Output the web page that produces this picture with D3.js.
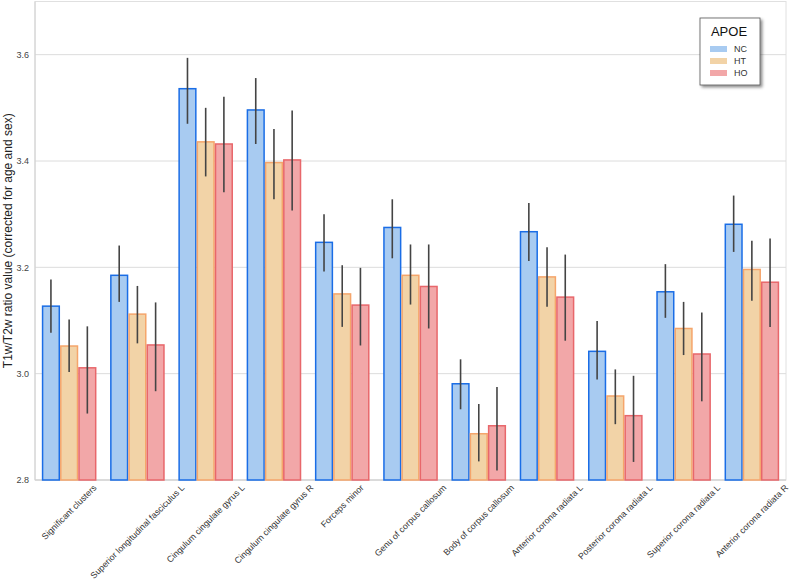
<!DOCTYPE html>
<html><head><meta charset="utf-8">
<script src="https://cdn.jsdelivr.net/npm/d3@7"></script>
<style>body{margin:0;background:#fff;font-family:"Liberation Sans",Arial,sans-serif;}</style>
</head><body><svg id="c" width="790" height="580"></svg>
<script>
const categories = ["Significant clusters","Superior longitudinal fasciculus L","Cingulum cingulate gyrus L","Cingulum cingulate gyrus R","Forceps minor","Genu of corpus callosum","Body of corpus callosum","Anterior corona radiata L","Posterior corona radiata L","Superior corona radiata L","Anterior corona radiata R"];
const groups = ["NC","HT","HO"];
const ncMean = [3.127,3.185,3.536,3.496,3.247,3.275,2.981,3.267,3.042,3.154,3.281];
const ncLow  = [3.077,3.135,3.470,3.432,3.192,3.217,2.933,3.212,2.989,3.105,3.229];
const ncHigh = [3.177,3.241,3.594,3.556,3.300,3.328,3.027,3.321,3.099,3.206,3.335];
const htMean = [3.052,3.112,3.436,3.397,3.150,3.185,2.887,3.182,2.958,3.085,3.196];
const htLow  = [3.003,3.057,3.371,3.328,3.088,3.130,2.835,3.126,2.905,3.035,3.137];
const htHigh = [3.102,3.165,3.500,3.460,3.204,3.243,2.943,3.238,3.008,3.135,3.250];
const hoMean = [3.011,3.054,3.432,3.402,3.129,3.164,2.902,3.144,2.921,3.037,3.172];
const hoLow  = [2.925,2.967,3.341,3.307,3.053,3.085,2.818,3.062,2.834,2.948,3.088];
const hoHigh = [3.089,3.134,3.521,3.495,3.199,3.243,2.975,3.224,2.996,3.115,3.254];
const yTicks = [2.8,3.0,3.2,3.4,3.6];
const yLabel = "T1w/T2w ratio value (corrected for age and sex)";
const legendTitle = "APOE";

const fills = {NC:"#a8cbf1",HT:"#f2d3a7",HO:"#f2a7a8"};
const strokes = {NC:"#1a6de6",HT:"#f5a56b",HO:"#e8676b"};
const series = {NC:[ncMean,ncLow,ncHigh],HT:[htMean,htLow,htHigh],HO:[hoMean,hoLow,hoHigh]};

const svg = d3.select("#c");
const L=35,R=786,T=1.5,B=480;
const x = d3.scaleBand().domain(categories).range([L,R]).paddingInner(0.2).paddingOuter(0.1);
const xs = d3.scaleBand().domain(groups).range([0,x.bandwidth()]);
const y = d3.scaleLinear().domain([2.8,3.7]).range([B,T]);

svg.append("rect").attr("x",L).attr("y",T).attr("width",R-L).attr("height",B-T).attr("fill","none").attr("stroke","#e0e0e0").attr("stroke-width",1);
svg.append("g").selectAll("line").data(yTicks).join("line")
  .attr("x1",L).attr("x2",R).attr("y1",d=>y(d)).attr("y2",d=>y(d))
  .attr("stroke","#dcdcdc").attr("stroke-width",1);
svg.append("line").attr("x1",L).attr("x2",L).attr("y1",T).attr("y2",B).attr("stroke","#d0d0d0");
svg.append("line").attr("x1",L).attr("x2",R).attr("y1",B).attr("y2",B).attr("stroke","#d0d0d0");

const yAxis = svg.append("g").attr("transform",`translate(${L},0)`)
  .call(d3.axisLeft(y).tickValues(yTicks).tickFormat(d3.format(".1f")).tickSize(0).tickPadding(6));
yAxis.select(".domain").remove();
yAxis.selectAll("text").attr("font-size",9).attr("fill","#444").attr("font-family","Liberation Sans, Arial, sans-serif");

svg.append("text").attr("transform",`translate(12,${(T+B)/2}) rotate(-90)`)
  .attr("text-anchor","middle").attr("font-size",12).attr("fill","#222").text(yLabel);

groups.forEach(g=>{
  const [m,lo,hi]=series[g];
  svg.append("g").selectAll("rect").data(categories).join("rect")
    .attr("x",(c)=>x(c)+xs(g)+0.75).attr("width",xs.bandwidth()-1.5)
    .attr("y",(c,i)=>y(m[i])).attr("height",(c,i)=>B-y(m[i]))
    .attr("fill",fills[g]).attr("stroke",strokes[g]).attr("stroke-width",1.5);
});
groups.forEach(g=>{
  const [m,lo,hi]=series[g];
  svg.append("g").selectAll("line").data(categories).join("line")
    .attr("x1",c=>x(c)+xs(g)+xs.bandwidth()/2).attr("x2",c=>x(c)+xs(g)+xs.bandwidth()/2)
    .attr("y1",(c,i)=>y(lo[i])).attr("y2",(c,i)=>y(hi[i]))
    .attr("stroke","#444").attr("stroke-width",1.6);
});

const xl = svg.append("g");
categories.forEach(c=>{
  const t = xl.append("text").attr("font-size",8.8).attr("fill","#333")
    .attr("text-anchor","middle").attr("dominant-baseline","central").text(c);
  const len = t.node().getComputedTextLength();
  const half = (len*0.7071 + 9*0.7071)/2;
  t.attr("transform",`translate(${x(c)+x.bandwidth()/2},${483+half}) rotate(-45)`);
});

const defs = svg.append("defs");
const f = defs.append("filter").attr("id","sh").attr("x","-20%").attr("y","-20%").attr("width","150%").attr("height","150%");
f.append("feDropShadow").attr("dx",2).attr("dy",2).attr("stdDeviation",1.5).attr("flood-color","#000").attr("flood-opacity",0.45);
const lg = svg.append("g").attr("transform","translate(700,18)");
lg.append("rect").attr("width",60).attr("height",67).attr("fill","#fff").attr("stroke","#555").attr("stroke-width",0.8).attr("filter","url(#sh)");
lg.append("text").attr("x",29).attr("y",18).attr("text-anchor","middle").attr("font-size",13).attr("fill","#111").text(legendTitle);
groups.forEach((g,i)=>{
  lg.append("rect").attr("x",10).attr("y",28+i*12).attr("width",17).attr("height",6).attr("fill",fills[g]);
  lg.append("text").attr("x",34).attr("y",31+i*12).attr("dominant-baseline","central").attr("font-size",9).attr("fill","#333").text(g);
});
</script></body></html>
